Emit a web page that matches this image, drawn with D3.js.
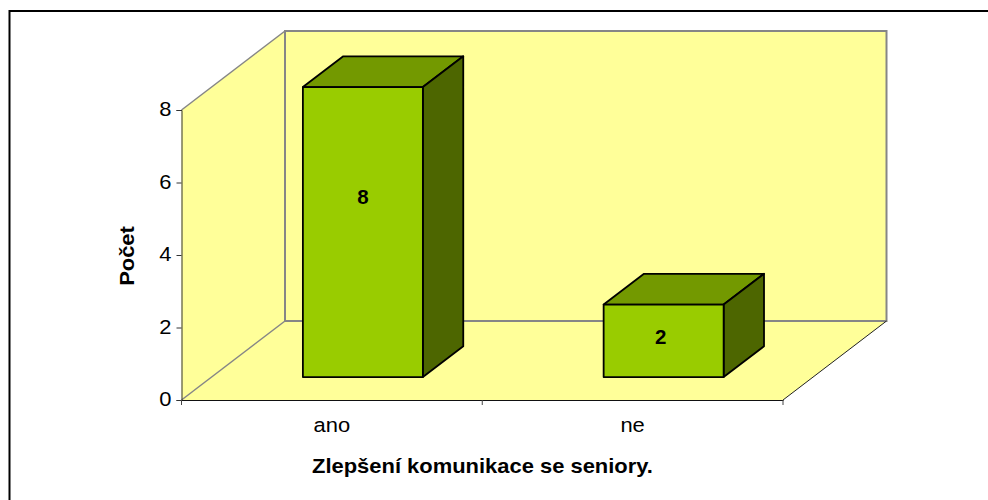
<!doctype html>
<html>
<head>
<meta charset="utf-8">
<title>Zlepšení komunikace se seniory</title>
<script src="https://d3js.org/d3.v7.min.js"></script>
<style>
html, body { margin: 0; padding: 0; background: white; }
svg { display: block; }
text { font-family: "Liberation Sans", Arial, sans-serif; fill: black; }
</style>
</head>
<body>
<div id="chart1"></div>
<script>
// data
var categories = ["ano", "ne"];
var counts = [8, 2];
var yTicks = [0, 2, 4, 6, 8];
var xTitle = "Zlepšení komunikace se seniory.";
var yTitle = "Počet";

var width = 988, height = 500;

// front plane of the 3d box
var margin = { left: 181.5, right: 205, top: 110, bottom: 100 };

// depth of the floor and where the bars sit in it
var depth = { dx: 103.5, dy: -79 };
var barStart = 0.29, barDepth = 0.39;

// the original text is a bit wider than Liberation Sans at the same height
var stretch = 1.07;
function widen(sel, k) {
  sel.each(function() {
    this.setAttribute("textLength", this.getComputedTextLength() * (k || stretch));
    this.setAttribute("lengthAdjust", "spacingAndGlyphs");
  });
}

var svg = d3.select("#chart1").append("svg")
  .attr("width", width)
  .attr("height", height);

// outer frame, runs off the picture on the right and bottom
svg.append("rect")
  .attr("x", 9.5).attr("y", 11)
  .attr("width", 1000).attr("height", 600)
  .attr("fill", "white")
  .attr("stroke", "black")
  .attr("stroke-width", 2);

var x = d3.scaleBand()
  .domain(categories)
  .range([margin.left, width - margin.right]);

var y = d3.scaleLinear()
  .domain([0, 8])
  .range([height - margin.bottom, margin.top]);

var line = d3.line();
var x0 = x.range()[0], x1 = x.range()[1];
var yb = y(0), yt = y(8);
var dx = depth.dx, dy = depth.dy;

// side wall and floor
svg.append("path")
  .attr("d", line([[x0, yb], [x0 + dx, yb + dy], [x0 + dx, yt + dy], [x0, yt]]) + "Z")
  .attr("fill", "#ffff99").attr("stroke", "none");
svg.append("path")
  .attr("d", line([[x0, yb], [x0 + dx, yb + dy], [x1 + dx, yb + dy], [x1, yb]]) + "Z")
  .attr("fill", "#ffff99").attr("stroke", "none");

// back wall
svg.append("rect")
  .attr("x", x0 + dx).attr("y", yt + dy)
  .attr("width", x1 - x0).attr("height", yb - yt)
  .attr("fill", "#ffff99")
  .attr("stroke", "#868686")
  .attr("stroke-width", 2);

// wall edges
svg.append("path")
  .attr("d", line([[x0, yt], [x0 + dx, yt + dy]]))
  .attr("fill", "none").attr("stroke", "#868686").attr("stroke-width", 1.5);
svg.append("path")
  .attr("d", line([[x0, yb], [x0 + dx, yb + dy]]))
  .attr("fill", "none").attr("stroke", "#868686").attr("stroke-width", 1.5);
svg.append("path")
  .attr("d", line([[x1, yb], [x1 + dx, yb + dy]]))
  .attr("fill", "none").attr("stroke", "#222").attr("stroke-width", 1);

// axes
var yAxis = svg.append("g")
  .attr("transform", "translate(" + x0 + ",0)")
  .call(d3.axisLeft(y).tickValues(yTicks).tickSize(5).tickPadding(5));
var xAxis = svg.append("g")
  .attr("transform", "translate(0," + yb + ")")
  .call(d3.axisBottom(x).tickSize(0).tickPadding(17));

// category separators, axisBottom only ticks the band centres
svg.selectAll("line.sep")
  .data([x0, x(categories[1]), x1])
  .enter().append("line")
  .attr("class", "sep")
  .attr("x1", function(d) { return d; })
  .attr("x2", function(d) { return d; })
  .attr("y1", yb)
  .attr("y2", yb + 5)
  .attr("stroke", "#444");

yAxis.selectAll("text")
  .attr("font-size", 20.5).attr("font-family", null).attr("dy", "0.27em")
  .call(widen);
xAxis.selectAll("text")
  .attr("font-size", 20.5).attr("font-family", null)
  .call(widen);
yAxis.selectAll("path,line").attr("stroke", "#333");
xAxis.selectAll("path").attr("stroke", "#111");

// bars
var barWidth = 120;
var bar = svg.selectAll("g.bar")
  .data(categories)
  .enter().append("g")
  .attr("class", "bar");

function front(d, i) {
  var left = x(d) + x.bandwidth() / 2 - barWidth / 2 + dx * barStart + 1;
  return { l: left, r: left + barWidth, b: yb + dy * barStart, t: y(counts[i]) + dy * barStart };
}
var ddx = dx * barDepth, ddy = dy * barDepth;

bar.append("path")
  .attr("d", function(d, i) {
    var f = front(d, i);
    return line([[f.l, f.t], [f.l + ddx, f.t + ddy], [f.r + ddx, f.t + ddy], [f.r, f.t]]) + "Z";
  })
  .attr("fill", "#739900");
bar.append("path")
  .attr("d", function(d, i) {
    var f = front(d, i);
    return line([[f.r, f.t], [f.r + ddx, f.t + ddy], [f.r + ddx, f.b + ddy], [f.r, f.b]]) + "Z";
  })
  .attr("fill", "#4d6600");
bar.append("path")
  .attr("d", function(d, i) {
    var f = front(d, i);
    return line([[f.l, f.t], [f.r, f.t], [f.r, f.b], [f.l, f.b]]) + "Z";
  })
  .attr("fill", "#99cc00");
bar.selectAll("path")
  .attr("stroke", "black")
  .attr("stroke-width", 1.8)
  .attr("stroke-linejoin", "round");

// value labels, the original puts them above the middle of the tall bar
bar.append("text")
  .attr("x", function(d, i) {
    var f = front(d, i);
    return (f.l + f.r) / 2 + (f.b - f.t - 290) * 0.0138;
  })
  .attr("y", function(d, i) {
    var f = front(d, i);
    return f.b - (f.b - f.t) * 0.6437 + 14;
  })
  .attr("text-anchor", "middle")
  .attr("font-size", 20.5)
  .attr("font-weight", "bold")
  .text(function(d, i) { return counts[i]; });

// axis titles
svg.append("text")
  .attr("x", 482.5).attr("y", 473)
  .attr("text-anchor", "middle")
  .attr("font-size", 20.5)
  .attr("font-weight", "bold")
  .text(xTitle)
  .call(widen);
svg.append("text")
  .attr("transform", "translate(134,256) rotate(-90)")
  .attr("text-anchor", "middle")
  .attr("font-size", 20.5)
  .attr("font-weight", "bold")
  .text(yTitle)
  .call(widen);
</script>
</body>
</html>
